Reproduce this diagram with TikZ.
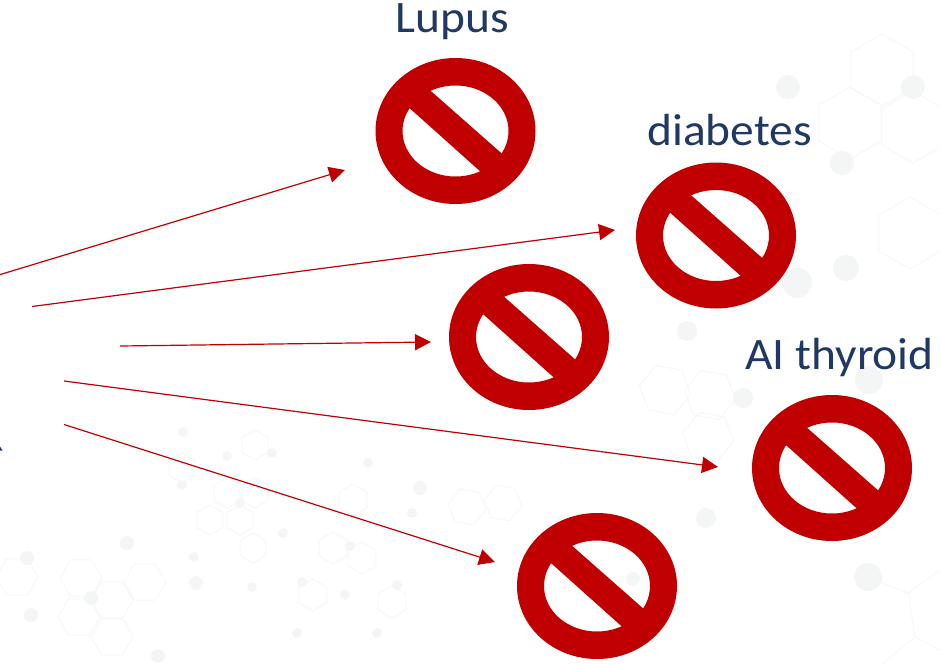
\documentclass[tikz,border=0pt]{standalone}
\usepackage{fontspec}
\setmainfont{Carlito}
\usetikzlibrary{arrows.meta,positioning}
\definecolor{signred}{RGB}{192,0,0}
\definecolor{labelblue}{RGB}{31,56,100}
\definecolor{molecule}{RGB}{246,247,247}
\definecolor{atomgray}{RGB}{244,245,245}
\tikzset{
  label text/.style={labelblue,anchor=base,inner sep=0pt,xscale=1.055,font=\fontsize{45}{50}\selectfont},
  link/.style={signred,line width=1.2pt,-{Triangle[length=16pt,width=16pt]}},
  bond/.style={molecule,line width=1pt},
  atom/.style={circle,fill=atomgray,inner sep=0pt,minimum size=#1},
  nosign/.pic={
    \fill[signred,even odd rule] (0,0) ellipse [x radius=80,y radius=73]
      (0,0) ellipse [x radius=53,y radius=45.5];
    \fill[signred] (-29.3,-44.1) -- (50,25.8) -- (28.2,43.5) -- (-50,-26.5) -- cycle;
  }
}
\begin{document}
\begin{tikzpicture}[x=1pt,y=-1pt]
  \useasboundingbox (0,0) rectangle (940,664);
  % faint molecules behind
  \foreach \x/\y/\r/\a in {17/577/21/0,81/578/21/0,145/582/21/0,112/600/21/0,79/617/21/0,112/637/21/0,
      255/445/15/30,182/468/15/30,227/493/15/30,255/493/15/30,210/520/15/30,240/520/15/30,253/548/15/30,
      353/500/16/30,333/548/16/30,362/558/16/30,313/595/16/30,392/602/16/30,467/507/19/10,503/503/19/10,
      882/70/36/30,913/127/36/30,850/123/36/30,910/233/36/30,710/395/26/10,708/437/26/10,665/390/26/10}
    \draw[bond] (\x,\y) +(\a:\r) -- +(\a+60:\r) -- +(\a+120:\r) -- +(\a+180:\r) -- +(\a+240:\r) -- +(\a+300:\r) -- cycle;
  \foreach \x/\y/\s in {27/558/14,127/543/14,196/583/14,91/598/14,31/615/14,158/656/14,183/432/10,272/453/10,
      227/456/10,182/485/10,240/503/10,283/533/10,194/557/10,252/587/10,368/463/10,420/488/14,412/513/10,
      350/546/10,302/582/10,345/595/10,397/585/10,297/633/10,377/633/10,788/87/24,913/87/24,842/163/24,
      846/268/26,687/331/20,797/283/30,743/398/20,869/380/28,706/518/20,868/577/28,633/579/14}
    \node[atom=\s pt] (atom\x) at (\x,\y) {};
  \draw[bond] (868,577) -- (908,593) -- (915,637) -- (882,664);
  \draw[bond] (915,637) -- (940,650);
  \draw[bond] (908,593) -- (940,570);

  % signs
  \path (455.5,131) pic {nosign};
  \path (716,235.5) pic {nosign};
  \path (529,337) pic {nosign};
  \path (832,468) pic {nosign};
  \path (597,586) pic {nosign};

  \node[label text] (lupus) at (452.5,32) {Lupus};
  \node[label text] (diabetes) at (729.5,145) {diabetes};
  \node[label text] (thyroid) at (839.5,369) {AI thyroid};
  % sliver at the left edge
  \fill[labelblue] (0,446.5) -- (2.5,450.5) -- (0,450.5) -- cycle;

  \coordinate (s1) at (-3,275.5);
  \coordinate (e1) at (345,170);
  \coordinate (s2) at (32,306.5);
  \coordinate (e2) at (615,230);
  \coordinate (s3) at (120,346);
  \coordinate (e3) at (431,342);
  \coordinate (s4) at (64,381);
  \coordinate (e4) at (718,467);
  \coordinate (s5) at (64,424.5);
  \coordinate (e5) at (495,562);
  \foreach \i in {1,...,5}
    \draw[link] (s\i) -- (e\i);
\end{tikzpicture}
\end{document}
